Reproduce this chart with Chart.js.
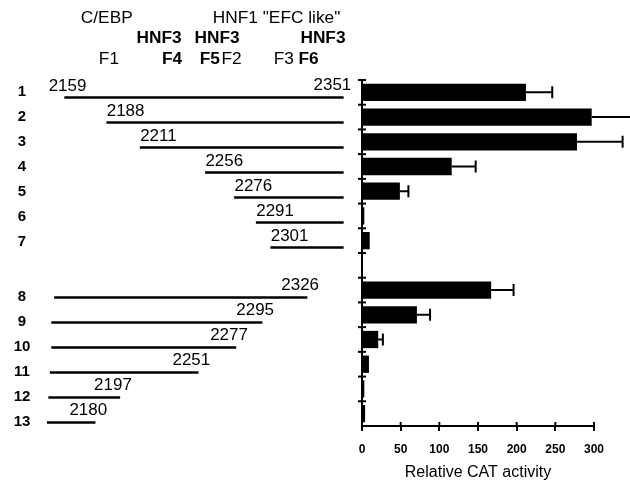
<!DOCTYPE html>
<html>
<head>
<meta charset="utf-8">
<script src="https://cdn.jsdelivr.net/npm/chart.js@4.4.1/dist/chart.umd.min.js"></script>
<style>
html, body { margin: 0; padding: 0; background: #fff; }
#wrap { position: relative; width: 630px; height: 493px; overflow: hidden; }
#mapChart { position: absolute; left: 0; top: 0; }
#catChart { position: absolute; left: 340px; top: 0; }
</style>
</head>
<body>
<div id="wrap">
  <canvas id="mapChart" width="360" height="493"></canvas>
  <canvas id="catChart" width="290" height="493"></canvas>
</div>
<script>
// constructs (blank slot between 7 and 8)
const rows = ['1', '2', '3', '4', '5', '6', '7', '', '8', '9', '10', '11', '12', '13'];
const starts = [2159, 2188, 2211, 2256, 2276, 2291, 2301, null, 2152, 2150, 2150, 2149, 2148, 2147];
const ends = [2351, 2351, 2351, 2351, 2351, 2351, 2351, null, 2326, 2295, 2277, 2251, 2197, 2180];
const startText = ['2159', '2188', '2211', '2256', '2276', '2291', '2301', null, null, null, null, null, null, null];
const endText = ['2351', null, null, null, null, null, null, null, '2326', '2295', '2277', '2251', '2197', '2180'];

// relative CAT activity
const catValues = [212, 297, 278, 116, 49, 3, 10, null, 167, 71, 21, 9, 3, 4];
const catErrors = [34, 53, 59, 31, 11, 0, 0, null, 29, 17, 6, 0, 0, 0];
const xTicks = [0, 50, 100, 150, 200, 250, 300];

// binding sites above the map
const siteNames = ['C/EBP', 'HNF1 "EFC like"', 'HNF3', 'HNF3', 'HNF3', 'F1', 'F4', 'F5', 'F2', 'F3', 'F6'];
const sitePos = [2188, 2305, 2224, 2264, 2337, 2189.5, 2233, 2259, 2274, 2310, 2327];
const siteTier = [0, 0, 1, 1, 1, 2, 2, 2, 2, 2, 2];
const siteBold = [false, false, true, true, true, false, true, true, false, false, true];

const FONT = "'Liberation Sans', Arial, Helvetica, sans-serif";
const NARROW = "'Liberation Sans Narrow', 'Arial Narrow', 'Liberation Sans', Arial, sans-serif";

function stretchText(ctx, text, x, y, align, sx) {
    ctx.save();
    ctx.translate(x, y);
    ctx.scale(sx, 1);
    ctx.textAlign = align;
    ctx.fillText(text, 0, 0);
    ctx.restore();
}

const mapLabels = {
    id: 'mapLabels',
    afterDatasetsDraw(chart) {
        const ctx = chart.ctx;
        const xs = chart.scales.x;
        const ys = chart.scales.y;
        ctx.save();
        ctx.fillStyle = '#000';

        // sites
        const tierY = [19, 39, 60];
        siteNames.forEach((name, i) => {
            ctx.font = (siteBold[i] ? 'bold ' : '') + '16px ' + FONT;
            ctx.textBaseline = 'middle';
            stretchText(ctx, name, xs.getPixelForValue(sitePos[i]), tierY[siteTier[i]], 'center', 1.08);
        });

        // row numbers
        ctx.font = 'bold 15px ' + FONT;
        ctx.textBaseline = 'middle';
        rows.forEach((r, i) => {
            if (!r) return;
            const y = ys.getPixelForValue(i) - (i < 7 ? 6 : 1);
            ctx.textAlign = 'center';
            ctx.fillText(r, 22, y);
        });

        // position numbers
        ctx.font = '16px ' + FONT;
        ctx.textBaseline = 'bottom';
        rows.forEach((r, i) => {
            const y = ys.getPixelForValue(i);
            if (startText[i]) {
                const x = xs.getPixelForValue(starts[i]);
                stretchText(ctx, startText[i], i === 0 ? x - 16 : x, y - 3, 'left', 1.06);
            }
            if (endText[i]) {
                const x = xs.getPixelForValue(ends[i]);
                stretchText(ctx, endText[i], x + (i === 0 ? 8 : 12), y - 4, 'right', 1.06);
            }
        });
        ctx.restore();
    }
};

const mapCtx = document.getElementById('mapChart').getContext('2d');
const mapChart = new Chart(mapCtx, {
    type: 'bar',
    data: {
        labels: rows,
        datasets: [{
            data: rows.map((r, i) => starts[i] === null ? null : [starts[i], ends[i]]),
            backgroundColor: '#000',
            borderWidth: 0,
            barThickness: 2
        }]
    },
    options: {
        indexAxis: 'y',
        responsive: false,
        animation: false,
        events: [],
        layout: { padding: { left: 40, right: 8, top: 85, bottom: 58 } },
        scales: {
            x: { type: 'linear', min: 2142, max: 2357, display: false },
            y: { type: 'category', display: false }
        },
        plugins: { legend: { display: false }, tooltip: { enabled: false } }
    },
    plugins: [mapLabels]
});

const errorBars = {
    id: 'errorBars',
    afterDatasetsDraw(chart) {
        const ctx = chart.ctx;
        const xs = chart.scales.x;
        const ys = chart.scales.y;
        const area = chart.chartArea;
        ctx.save();
        ctx.strokeStyle = '#000';
        ctx.lineWidth = 2;
        catValues.forEach((v, i) => {
            if (v === null || !catErrors[i]) return;
            const x1 = xs.getPixelForValue(v);
            const x2 = xs.getPixelForValue(v + catErrors[i]);
            const y = ys.getPixelForValue(i);
            ctx.beginPath();
            ctx.moveTo(x1, y);
            ctx.lineTo(x2, y);
            ctx.moveTo(x2, y - 6);
            ctx.lineTo(x2, y + 6);
            ctx.stroke();
        });
        // ticks crossing the axes
        xTicks.forEach(t => {
            const x = xs.getPixelForValue(t);
            ctx.beginPath();
            ctx.moveTo(x, area.bottom - 4);
            ctx.lineTo(x, area.bottom);
            ctx.stroke();
        });
        rows.forEach((r, i) => {
            const y = ys.getPixelForValue(i - 0.5);
            ctx.beginPath();
            ctx.moveTo(area.left - 4, y);
            ctx.lineTo(area.left + 4, y);
            ctx.stroke();
        });
        ctx.restore();
    }
};

const catCtx = document.getElementById('catChart').getContext('2d');
const catChart = new Chart(catCtx, {
    type: 'bar',
    data: {
        labels: rows,
        datasets: [{
            data: catValues,
            backgroundColor: '#000',
            borderWidth: 0,
            barPercentage: 0.7,
            categoryPercentage: 1
        }]
    },
    options: {
        indexAxis: 'y',
        responsive: false,
        animation: false,
        events: [],
        layout: { padding: { left: 0, right: 36, top: 80, bottom: 0 } },
        scales: {
            x: {
                type: 'linear',
                min: 0,
                max: 300,
                afterBuildTicks: scale => { scale.ticks = xTicks.map(v => ({ value: v })); },
                ticks: {
                    color: '#000',
                    font: { family: NARROW, size: 12, weight: 'bold' },
                    padding: 11,
                    maxRotation: 0
                },
                grid: { drawOnChartArea: false, tickLength: 5, color: '#000', lineWidth: 2 },
                border: { display: true, color: '#000', width: 2 },
                title: {
                    display: true,
                    text: 'Relative CAT activity',
                    color: '#000',
                    font: { family: FONT, size: 16 },
                    padding: { top: 0, bottom: 11 }
                },
                afterFit: scale => { scale.height = 67; }
            },
            y: {
                type: 'category',
                ticks: { display: false },
                grid: { display: false },
                border: { display: true, color: '#000', width: 2 },
                afterFit: scale => { scale.width = 22; }
            }
        },
        plugins: { legend: { display: false }, tooltip: { enabled: false } }
    },
    plugins: [errorBars]
});
</script>
</body>
</html>
